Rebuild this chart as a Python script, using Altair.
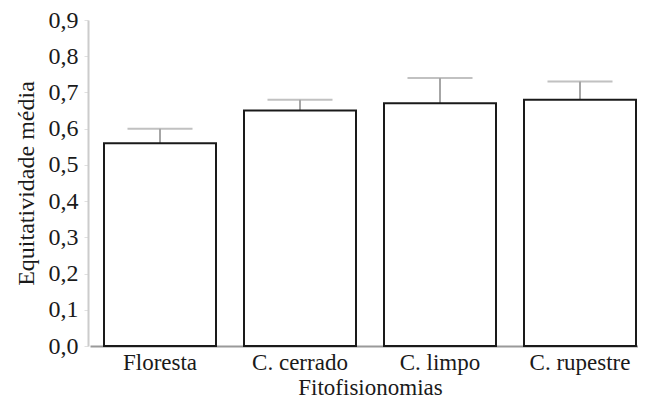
import altair as alt
import pandas as pd

categories = ["Floresta", "C. cerrado", "C. limpo", "C. rupestre"]
means = [0.56, 0.65, 0.67, 0.68]
upper = [0.60, 0.68, 0.74, 0.73]
y_ticks = [0.0, 0.1, 0.2, 0.3, 0.4, 0.5, 0.6, 0.7, 0.8, 0.9]

df = pd.DataFrame({"cat": categories, "mean": means, "upper": upper})

FONT = "Liberation Serif"

x = alt.X(
    "cat:N",
    sort=categories,
    scale=alt.Scale(paddingInner=0.2, paddingOuter=0.1, range=[2, 562]),
    axis=alt.Axis(
        title="Fitofisionomias",
        labelAngle=0,
        ticks=False,
        domainColor="#9a9a9a",
        domainWidth=2,
        labelPadding=5,
        labelFontSize=23,
        titleFontSize=23,
        titleY=48,
        titleBaseline="alphabetic",
    ),
)

y_axis = alt.Axis(
    title="Equitatividade média",
    values=y_ticks,
    labelExpr="replace(format(datum.value, '.1f'), '.', ',')",
    labelOverlap=False,
    grid=False,
    domainColor="#cccccc",
    domainWidth=2,
    tickColor="#e0e0e0",
    tickSize=4,
    labelPadding=6,
    titlePadding=10,
)
y_scale = alt.Scale(domain=[0, 0.9], nice=False)

err = alt.Chart(df).mark_rule(color="#a6a6a6", strokeWidth=2).encode(
    x=x,
    y=alt.Y("mean:Q", scale=y_scale, axis=y_axis),
    y2="upper:Q",
)

cap = alt.Chart(df).mark_tick(color="#a6a6a6", thickness=2, size=65).encode(
    x=x,
    y=alt.Y("upper:Q", scale=y_scale, axis=y_axis),
)

bars = alt.Chart(df).mark_bar(fill="white", stroke="#1a1a1a", strokeWidth=2).encode(
    x=x,
    y=alt.Y("mean:Q", scale=y_scale, axis=y_axis),
)

chart = (
    alt.layer(err, cap, bars)
    .properties(
        width=550,
        height=326,
        autosize=alt.AutoSizeParams(type="none"),
        padding={"left": 80, "top": 12, "right": 0, "bottom": 50},
    )
    .configure_view(stroke=None)
    .configure_axis(
        labelFont=FONT,
        titleFont=FONT,
        labelFontSize=24,
        titleFontSize=24,
        labelColor="#1a1a1a",
        titleColor="#1a1a1a",
        titleFontWeight="normal",
        labelOverlap=False,
    )
)

chart.save("out.html", embed_options={"renderer": "svg", "actions": False})
